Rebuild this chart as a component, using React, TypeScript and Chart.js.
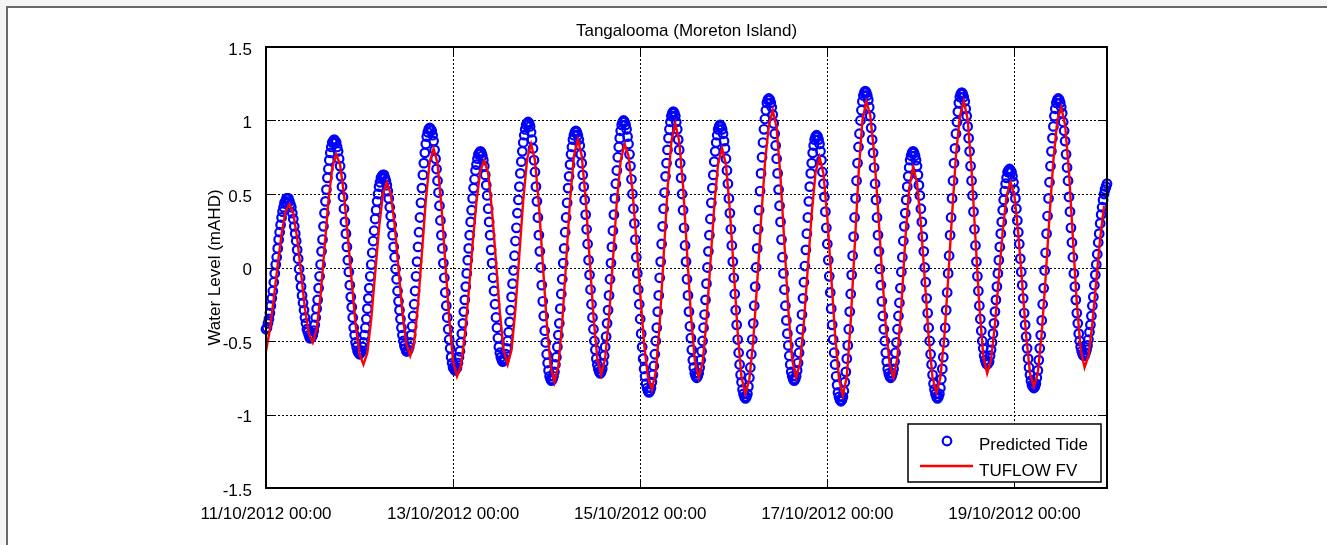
import { useEffect, useRef } from "react";
import { Chart, registerables } from "chart.js";

Chart.register(...registerables);

const TITLE = "Tangalooma (Moreton Island)";
const Y_LABEL = "Water Level (mAHD)";
const SERIES_NAMES = ["Predicted Tide", "TUFLOW FV"];

// time axis in hours from 11/10/2012 00:00
const X_TICK_HOURS = [0, 48, 96, 144, 192];
const X_TICK_LABELS = [
  "11/10/2012 00:00",
  "13/10/2012 00:00",
  "15/10/2012 00:00",
  "17/10/2012 00:00",
  "19/10/2012 00:00",
];
const X_MAX_H = 215.75;
const Y_TICKS = [-1.5, -1, -0.5, 0, 0.5, 1, 1.5];
const Y_TICK_LABELS = ["-1.5", "-1", "-0.5", "0", "0.5", "1", "1.5"];

const TIDE_STEP_H = 0.25; // predicted tide every 15 minutes
const TUFLOW_STEP_H = 1; // model output hourly

// Predicted Tide (mAHD), 15-minute values from 11/10/2012 00:00
const PREDICTED_TIDE = [
  -0.42,-0.41,-0.38,-0.35,-0.31,-0.26,-0.21,-0.16,-0.10,-0.04,0.02,0.07,0.13,0.19,0.24,0.29,0.34,0.38,0.41,0.44,0.45,0.47,0.47,
  0.47,0.45,0.43,0.41,0.37,0.33,0.28,0.23,0.18,0.12,0.06,-0.01,-0.07,-0.13,-0.19,-0.24,-0.29,-0.34,-0.38,-0.42,-0.44,-0.46,-0.48,-0.48,
  -0.47,-0.46,-0.43,-0.39,-0.34,-0.28,-0.22,-0.14,-0.06,0.02,0.11,0.19,0.28,0.37,0.45,0.53,0.61,0.67,0.73,0.78,0.82,0.85,0.86,0.87,
  0.86,0.85,0.82,0.79,0.74,0.69,0.62,0.55,0.48,0.40,0.31,0.23,0.14,0.05,-0.03,-0.12,-0.20,-0.27,-0.34,-0.41,-0.46,-0.51,-0.54,-0.57,-0.58,-0.59,
  -0.58,-0.57,-0.54,-0.51,-0.46,-0.41,-0.35,-0.28,-0.21,-0.14,-0.06,0.02,0.10,0.18,0.25,0.33,0.39,0.45,0.50,0.55,0.58,0.61,0.62,0.63,
  0.63,0.61,0.59,0.56,0.52,0.47,0.41,0.35,0.29,0.22,0.14,0.07,-0.01,-0.08,-0.16,-0.23,-0.29,-0.35,-0.41,-0.46,-0.50,-0.53,-0.55,-0.57,-0.57,
  -0.56,-0.54,-0.51,-0.46,-0.40,-0.33,-0.25,-0.16,-0.06,0.04,0.14,0.24,0.34,0.44,0.54,0.63,0.71,0.78,0.84,0.89,0.92,0.94,0.95,
  0.94,0.93,0.90,0.86,0.80,0.74,0.67,0.59,0.51,0.42,0.32,0.22,0.13,0.03,-0.07,-0.17,-0.26,-0.34,-0.42,-0.49,-0.55,-0.61,-0.65,-0.68,-0.69,-0.70,
  -0.69,-0.68,-0.65,-0.61,-0.57,-0.51,-0.45,-0.38,-0.30,-0.22,-0.13,-0.04,0.05,0.13,0.22,0.31,0.39,0.47,0.54,0.60,0.66,0.70,0.74,0.77,0.78,0.79,
  0.78,0.76,0.73,0.69,0.63,0.56,0.49,0.40,0.31,0.22,0.12,0.03,-0.07,-0.16,-0.25,-0.34,-0.41,-0.48,-0.54,-0.58,-0.61,-0.63,-0.64,
  -0.63,-0.62,-0.59,-0.55,-0.50,-0.44,-0.37,-0.29,-0.20,-0.11,-0.02,0.08,0.18,0.27,0.37,0.46,0.55,0.64,0.72,0.79,0.85,0.90,0.94,0.97,0.98,0.99,
  0.98,0.96,0.92,0.87,0.81,0.73,0.65,0.55,0.45,0.34,0.22,0.11,0.00,-0.12,-0.23,-0.33,-0.43,-0.51,-0.59,-0.65,-0.70,-0.74,-0.76,-0.77,
  -0.76,-0.74,-0.71,-0.66,-0.61,-0.54,-0.46,-0.38,-0.28,-0.18,-0.08,0.03,0.13,0.24,0.34,0.44,0.54,0.62,0.70,0.77,0.82,0.87,0.90,0.92,0.93,
  0.92,0.90,0.87,0.83,0.77,0.71,0.63,0.55,0.46,0.36,0.26,0.16,0.05,-0.05,-0.15,-0.25,-0.34,-0.42,-0.50,-0.56,-0.62,-0.66,-0.69,-0.71,-0.72,
  -0.71,-0.69,-0.65,-0.60,-0.54,-0.47,-0.38,-0.29,-0.19,-0.08,0.03,0.14,0.25,0.36,0.47,0.57,0.66,0.75,0.82,0.88,0.93,0.97,0.99,1.00,
  0.99,0.97,0.94,0.89,0.84,0.77,0.69,0.60,0.50,0.40,0.30,0.19,0.07,-0.04,-0.15,-0.25,-0.35,-0.45,-0.54,-0.62,-0.69,-0.74,-0.79,-0.82,-0.84,-0.85,
  -0.84,-0.82,-0.78,-0.73,-0.67,-0.59,-0.50,-0.41,-0.30,-0.19,-0.07,0.04,0.16,0.28,0.40,0.51,0.62,0.71,0.80,0.88,0.94,0.99,1.03,1.05,1.06,
  1.05,1.03,0.99,0.94,0.87,0.80,0.71,0.61,0.50,0.39,0.27,0.15,0.04,-0.08,-0.19,-0.30,-0.40,-0.48,-0.56,-0.63,-0.68,-0.72,-0.74,-0.75,
  -0.74,-0.72,-0.68,-0.63,-0.57,-0.50,-0.41,-0.32,-0.22,-0.11,0.00,0.11,0.22,0.33,0.44,0.54,0.63,0.72,0.79,0.85,0.90,0.94,0.96,0.97,
  0.96,0.94,0.91,0.86,0.81,0.74,0.66,0.57,0.47,0.37,0.26,0.15,0.04,-0.07,-0.18,-0.29,-0.39,-0.49,-0.58,-0.66,-0.73,-0.78,-0.83,-0.86,-0.88,-0.89,
  -0.88,-0.86,-0.81,-0.75,-0.68,-0.59,-0.49,-0.38,-0.26,-0.13,0.00,0.13,0.26,0.39,0.52,0.64,0.75,0.85,0.94,1.01,1.07,1.12,1.14,1.15,
  1.14,1.12,1.09,1.04,0.98,0.91,0.83,0.74,0.64,0.53,0.42,0.31,0.19,0.07,-0.04,-0.15,-0.26,-0.36,-0.45,-0.53,-0.60,-0.66,-0.71,-0.74,-0.76,-0.77,
  -0.76,-0.74,-0.70,-0.65,-0.58,-0.51,-0.42,-0.32,-0.21,-0.10,0.01,0.12,0.23,0.34,0.45,0.55,0.64,0.71,0.78,0.83,0.87,0.89,0.90,
  0.89,0.87,0.84,0.79,0.73,0.65,0.57,0.48,0.38,0.27,0.16,0.05,-0.06,-0.17,-0.28,-0.39,-0.49,-0.58,-0.66,-0.74,-0.80,-0.85,-0.88,-0.90,-0.91,
  -0.90,-0.88,-0.84,-0.78,-0.71,-0.62,-0.53,-0.42,-0.30,-0.18,-0.05,0.08,0.21,0.34,0.47,0.59,0.71,0.82,0.91,1.00,1.07,1.13,1.17,1.19,1.20,
  1.19,1.17,1.14,1.09,1.03,0.95,0.87,0.78,0.68,0.57,0.46,0.34,0.22,0.11,-0.01,-0.12,-0.23,-0.33,-0.42,-0.50,-0.58,-0.64,-0.69,-0.72,-0.74,-0.75,
  -0.74,-0.72,-0.69,-0.64,-0.58,-0.51,-0.42,-0.33,-0.24,-0.14,-0.03,0.07,0.18,0.28,0.37,0.46,0.55,0.62,0.68,0.73,0.76,0.78,0.79,
  0.78,0.76,0.73,0.69,0.63,0.56,0.49,0.40,0.31,0.21,0.11,0.00,-0.10,-0.21,-0.31,-0.41,-0.50,-0.59,-0.66,-0.73,-0.79,-0.83,-0.86,-0.88,-0.89,
  -0.88,-0.86,-0.82,-0.76,-0.69,-0.61,-0.51,-0.41,-0.29,-0.17,-0.04,0.08,0.22,0.34,0.47,0.59,0.71,0.81,0.91,0.99,1.06,1.12,1.16,1.18,1.19,
  1.18,1.16,1.13,1.08,1.03,0.96,0.88,0.79,0.69,0.59,0.49,0.38,0.26,0.15,0.04,-0.06,-0.16,-0.26,-0.35,-0.43,-0.50,-0.55,-0.60,-0.63,-0.65,-0.66,
  -0.65,-0.64,-0.60,-0.56,-0.51,-0.45,-0.38,-0.30,-0.22,-0.13,-0.04,0.05,0.14,0.23,0.31,0.39,0.46,0.52,0.57,0.61,0.65,0.66,0.67,
  0.66,0.65,0.62,0.58,0.53,0.47,0.40,0.32,0.24,0.16,0.06,-0.03,-0.12,-0.21,-0.31,-0.39,-0.47,-0.55,-0.62,-0.68,-0.73,-0.77,-0.80,-0.81,-0.82,
  -0.81,-0.79,-0.75,-0.70,-0.63,-0.55,-0.46,-0.36,-0.25,-0.14,-0.02,0.10,0.23,0.35,0.47,0.58,0.69,0.79,0.88,0.96,1.03,1.08,1.12,1.14,1.15,
  1.14,1.12,1.09,1.05,0.99,0.93,0.86,0.77,0.68,0.59,0.48,0.38,0.27,0.17,0.07,-0.04,-0.13,-0.22,-0.31,-0.38,-0.45,-0.50,-0.54,-0.57,-0.59,-0.60,
  -0.60,-0.58,-0.56,-0.53,-0.49,-0.44,-0.39,-0.33,-0.26,-0.20,-0.12,-0.05,0.02,0.09,0.17,0.23,0.30,0.36,0.41,0.46,0.50,0.53,0.55,0.57,
];

// TUFLOW FV modelled water level (mAHD), hourly values from 11/10/2012 00:00
const TUFLOW_FV = [
  -0.57,-0.42,-0.21,0.02,0.23,0.38,0.43,
  0.37,0.20,-0.04,-0.28,-0.45,-0.51,
  -0.42,-0.19,0.13,0.45,0.68,0.77,
  0.70,0.50,0.21,-0.10,-0.39,-0.59,-0.66,
  -0.58,-0.35,-0.04,0.27,0.50,0.58,
  0.50,0.29,-0.01,-0.31,-0.52,-0.60,
  -0.51,-0.25,0.10,0.46,0.72,0.81,
  0.71,0.42,0.03,-0.35,-0.64,-0.74,
  -0.67,-0.46,-0.17,0.16,0.45,0.66,0.73,
  0.64,0.38,0.04,-0.31,-0.57,-0.66,
  -0.56,-0.28,0.09,0.46,0.74,0.84,
  0.73,0.43,0.03,-0.37,-0.67,-0.78,
  -0.67,-0.37,0.04,0.46,0.76,0.87,
  0.76,0.47,0.07,-0.33,-0.62,-0.73,
  -0.62,-0.34,0.05,0.45,0.73,0.84,
  0.76,0.53,0.19,-0.18,-0.52,-0.75,-0.83,
  -0.71,-0.38,0.07,0.53,0.86,0.98,
  0.86,0.55,0.11,-0.32,-0.63,-0.75,
  -0.65,-0.36,0.03,0.42,0.71,0.81,
  0.70,0.39,-0.02,-0.44,-0.75,-0.86,
  -0.76,-0.50,-0.11,0.32,0.71,0.97,1.07,
  0.95,0.61,0.16,-0.29,-0.63,-0.75,
  -0.65,-0.37,0.00,0.37,0.65,0.75,
  0.64,0.34,-0.06,-0.46,-0.76,-0.87,
  -0.74,-0.37,0.13,0.63,1.00,1.13,
  1.04,0.78,0.40,-0.02,-0.40,-0.66,-0.75,
  -0.61,-0.26,0.19,0.54,0.68,
  0.58,0.30,-0.08,-0.47,-0.75,-0.85,
  -0.75,-0.48,-0.08,0.36,0.76,1.03,1.13,
  1.01,0.67,0.20,-0.26,-0.60,-0.72,
  -0.63,-0.39,-0.07,0.25,0.49,0.58,
  0.49,0.23,-0.11,-0.46,-0.72,-0.81,
  -0.72,-0.45,-0.07,0.35,0.73,1.00,1.09,
  0.97,0.65,0.20,-0.24,-0.56,-0.68,
  -0.60,-0.38,-0.09,0.20,0.42,
];

const FONT = "'Liberation Sans', Arial, Helvetica, sans-serif";
const BLUE = "#0000ff";
const RED = "#ff0000";
const MARKER_R = 4.3;
const MARKER_W = 2.2;

const matlabFrame = {
  id: "matlabFrame",
  beforeDatasetsDraw(chart: any) {
    const { ctx, chartArea: a, scales } = chart;
    const x = scales.x;
    const y = scales.y;
    ctx.save();
    ctx.strokeStyle = "#000";
    ctx.lineWidth = 1;
    ctx.setLineDash([2, 2]);
    ctx.beginPath();
    X_TICK_HOURS.forEach((h) => {
      const px = Math.round(x.getPixelForValue(h)) + 0.5;
      if (px > a.left + 2 && px < a.right - 2) {
        ctx.moveTo(px, a.top);
        ctx.lineTo(px, a.bottom);
      }
    });
    Y_TICKS.forEach((v) => {
      const py = Math.round(y.getPixelForValue(v)) + 0.5;
      if (py > a.top + 2 && py < a.bottom - 2) {
        ctx.moveTo(a.left, py);
        ctx.lineTo(a.right, py);
      }
    });
    ctx.stroke();
    ctx.restore();
  },
  afterDatasetsDraw(chart: any) {
    const { ctx, chartArea: a, scales } = chart;
    const x = scales.x;
    const y = scales.y;
    ctx.save();
    // ticks (inward, all four sides)
    ctx.strokeStyle = "#000";
    ctx.lineWidth = 1;
    ctx.beginPath();
    const TL = 8;
    X_TICK_HOURS.forEach((h) => {
      const px = Math.round(x.getPixelForValue(h)) + 0.5;
      ctx.moveTo(px, a.bottom);
      ctx.lineTo(px, a.bottom - TL);
      ctx.moveTo(px, a.top);
      ctx.lineTo(px, a.top + TL);
    });
    Y_TICKS.forEach((v) => {
      const py = Math.round(y.getPixelForValue(v)) + 0.5;
      ctx.moveTo(a.left, py);
      ctx.lineTo(a.left + TL, py);
      ctx.moveTo(a.right, py);
      ctx.lineTo(a.right - TL, py);
    });
    ctx.stroke();
    // axes box
    ctx.lineWidth = 2;
    ctx.strokeRect(a.left, a.top, a.right - a.left, a.bottom - a.top);

    // title
    ctx.fillStyle = "#000";
    ctx.font = `17px ${FONT}`;
    ctx.textAlign = "center";
    ctx.textBaseline = "alphabetic";
    ctx.fillText(TITLE, (a.left + a.right) / 2, 36);

    // y label
    ctx.save();
    ctx.translate(219.5, (a.top + a.bottom) / 2);
    ctx.rotate(-Math.PI / 2);
    ctx.fillText(Y_LABEL, 0, 0);
    ctx.restore();

    // legend
    const lx = 908, ly = 424, lw = 193, lh = 58;
    ctx.fillStyle = "#fff";
    ctx.fillRect(lx, ly, lw, lh);
    ctx.strokeStyle = "#000";
    ctx.lineWidth = 1.5;
    ctx.strokeRect(lx, ly, lw, lh);
    const ds = chart.data.datasets;
    ctx.beginPath();
    ctx.strokeStyle = BLUE;
    ctx.lineWidth = MARKER_W;
    ctx.arc(947, 441, MARKER_R, 0, Math.PI * 2);
    ctx.stroke();
    ctx.beginPath();
    ctx.strokeStyle = RED;
    ctx.lineWidth = 2.5;
    ctx.moveTo(920, 466);
    ctx.lineTo(973, 466);
    ctx.stroke();
    ctx.fillStyle = "#000";
    ctx.textAlign = "left";
    ctx.fillText(ds[0].label, 979, 450);
    ctx.fillText(ds[1].label, 979, 476);
    ctx.restore();
  },
};

export default function App() {
  const ref = useRef<HTMLCanvasElement | null>(null);

  useEffect(() => {
    if (!ref.current) return;
    const tidePts = PREDICTED_TIDE.map((v, i) => ({ x: i * TIDE_STEP_H, y: v }));
    const tufPts = TUFLOW_FV.map((v, i) => ({ x: i * TUFLOW_STEP_H, y: v }));
    const chart = new Chart(ref.current, {
      type: "line",
      data: {
        datasets: [
          {
            label: SERIES_NAMES[0],
            data: tidePts,
            showLine: false,
            pointStyle: "circle",
            pointRadius: MARKER_R,
            pointBorderWidth: MARKER_W,
            pointBorderColor: BLUE,
            pointBackgroundColor: "rgba(0,0,0,0)",
            borderColor: BLUE,
            order: 1,
            clip: false,
          } as any,
          {
            label: SERIES_NAMES[1],
            data: tufPts,
            borderColor: RED,
            borderWidth: 2.4,
            pointRadius: 0,
            tension: 0,
            fill: false,
            order: 0,
            clip: false,
          } as any,
        ],
      },
      options: {
        animation: false,
        responsive: false,
        devicePixelRatio: 1,
        events: [],
        layout: { padding: { left: 0, top: 47, right: 220, bottom: 0 } },
        plugins: {
          legend: { display: false },
          title: { display: false },
          tooltip: { enabled: false },
        },
        scales: {
          x: {
            type: "linear",
            min: 0,
            max: X_MAX_H,
            grid: { display: false },
            border: { display: false },
            afterBuildTicks: (s: any) => {
              s.ticks = X_TICK_HOURS.map((v) => ({ value: v }));
            },
            afterFit: (s: any) => {
              s.height = 57;
            },
            ticks: {
              autoSkip: false,
              maxRotation: 0,
              minRotation: 0,
              padding: 8,
              color: "#000",
              font: { family: FONT, size: 17 },
              callback: (v: any) => {
                const i = X_TICK_HOURS.indexOf(Number(v));
                return i >= 0 ? X_TICK_LABELS[i] : "";
              },
            },
          },
          y: {
            type: "linear",
            min: -1.5,
            max: 1.5,
            grid: { display: false },
            border: { display: false },
            afterBuildTicks: (s: any) => {
              s.ticks = Y_TICKS.map((v) => ({ value: v }));
            },
            afterFit: (s: any) => {
              s.width = 266;
            },
            ticks: {
              autoSkip: false,
              padding: 6,
              labelOffset: 3,
              color: "#000",
              font: { family: FONT, size: 17 },
              callback: (v: any) => {
                const i = Y_TICKS.indexOf(Number(v));
                return i >= 0 ? Y_TICK_LABELS[i] : "";
              },
            },
          },
        },
      } as any,
      plugins: [matlabFrame],
    });
    return () => chart.destroy();
  }, []);

  return (
    <div
      style={{
        position: "fixed",
        left: 0,
        top: 0,
        width: 1327,
        height: 545,
        background: "#f6f5f3",
        overflow: "hidden",
      }}
    >
      <div
        style={{
          position: "absolute",
          left: 6,
          top: 6,
          width: 1400,
          height: 600,
          background: "#ffffff",
          borderLeft: "2px solid #6b6b6b",
          borderTop: "2px solid #6b6b6b",
        }}
      />
      <canvas
        ref={ref}
        width={1327}
        height={545}
        style={{ position: "absolute", left: 0, top: 0, width: 1327, height: 545 }}
      />
    </div>
  );
}
